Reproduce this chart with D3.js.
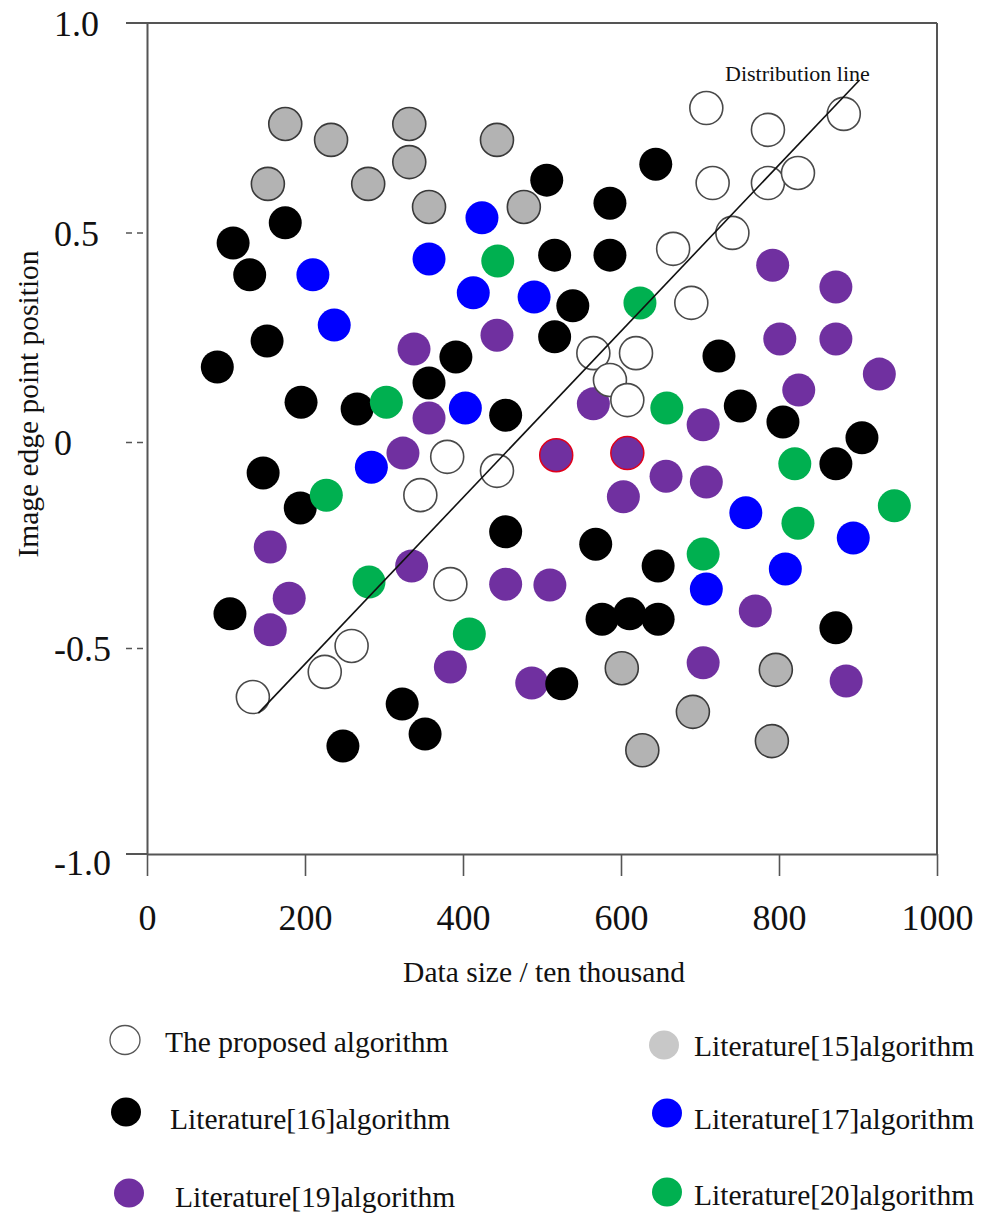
<!DOCTYPE html>
<html>
<head>
<meta charset="utf-8">
<script src="https://cdn.jsdelivr.net/npm/d3@7"></script>
<style>
  html, body { margin: 0; padding: 0; background: #fff; }
  svg { display: block; }
</style>
</head>
<body>
<script>
// ---------------- DATA ----------------
const seriesNames = [
  "The proposed algorithm", "Literature[15]algorithm",
  "Literature[16]algorithm", "Literature[17]algorithm",
  "Literature[19]algorithm", "Literature[20]algorithm"
];
const xTicks = [0, 200, 400, 600, 800, 1000];
const yTicks = [-1.0, -0.5, 0, 0.5, 1.0];
const xTitle = "Data size / ten thousand";
const yTitle = "Image edge point position";
const lineLabel = "Distribution line";

// The proposed algorithm (open circles)
const proposedX = [708, 786, 882, 716, 786, 824, 741, 666, 689, 565, 619, 586, 608, 380, 346, 443, 384, 259, 225, 134];
const proposedY = [0.797, 0.745, 0.783, 0.618, 0.618, 0.642, 0.499, 0.461, 0.332, 0.212, 0.212, 0.148, 0.100, -0.036, -0.129, -0.070, -0.345, -0.495, -0.558, -0.619];

// Literature[15] (grey)
const lit15X = [175, 233, 332, 332, 153, 280, 357, 443, 477, 601, 796, 691, 627, 791];
const lit15Y = [0.759, 0.721, 0.759, 0.668, 0.616, 0.616, 0.561, 0.721, 0.561, -0.549, -0.553, -0.655, -0.748, -0.726];

// Literature[16] (black)
const lit16X = [506, 175, 109, 130, 152, 89, 195, 266, 391, 357, 454, 516, 516, 539, 644, 586, 586, 724, 751, 805, 905, 872, 147, 194, 454, 105, 568, 647, 576, 611, 647, 872, 525, 323, 352, 248];
const lit16Y = [0.625, 0.523, 0.475, 0.399, 0.241, 0.179, 0.095, 0.079, 0.203, 0.141, 0.064, 0.446, 0.251, 0.325, 0.663, 0.570, 0.446, 0.205, 0.086, 0.048, 0.010, -0.053, -0.075, -0.160, -0.218, -0.417, -0.248, -0.301, -0.430, -0.417, -0.430, -0.451, -0.587, -0.636, -0.709, -0.738];

// Literature[17] (blue)
const lit17X = [424, 357, 210, 237, 413, 490, 403, 284, 758, 894, 708, 808];
const lit17Y = [0.535, 0.437, 0.399, 0.279, 0.356, 0.346, 0.081, -0.061, -0.172, -0.233, -0.357, -0.308];

// Literature[19] (purple)
const lit19X = [443, 338, 357, 324, 792, 872, 801, 872, 927, 825, 565, 704, 657, 708, 603, 156, 335, 454, 510, 180, 156, 384, 487, 770, 704, 885];
const lit19Y = [0.255, 0.222, 0.057, -0.027, 0.422, 0.370, 0.246, 0.246, 0.162, 0.124, 0.091, 0.041, -0.083, -0.097, -0.133, -0.255, -0.301, -0.345, -0.347, -0.379, -0.456, -0.546, -0.585, -0.410, -0.536, -0.580];
// Literature[19] points drawn with a red rim in the original
const lit19MarkedX = [518, 608];
const lit19MarkedY = [-0.032, -0.027];

// Literature[20] (green)
const lit20X = [444, 303, 624, 658, 227, 281, 408, 820, 946, 824, 704];
const lit20Y = [0.432, 0.095, 0.332, 0.081, -0.129, -0.340, -0.466, -0.053, -0.155, -0.197, -0.272];

// Distribution line end points
const distLineX = [141, 902];
const distLineY = [-0.658, 0.864];

// ---------------- DRAW ----------------
const W = 990, H = 1213;
const FONT = "'Liberation Serif', 'Times New Roman', serif";
const AXIS = "#555";
const R = 16.5;

const svg = d3.select("body").append("svg")
  .attr("width", W).attr("height", H)
  .attr("font-family", FONT);
svg.append("rect").attr("width", W).attr("height", H).attr("fill", "#fff");

const x = d3.scaleLinear().domain([0, 1000]).range([147, 937]);
const y = d3.scaleLinear().domain([-1, 0, 1]).range([854, 442, 23]);

// frame (top + right) and left extensions at 1.0 / -1.0
svg.append("line").attr("x1", 126).attr("x2", x(1000)).attr("y1", y(1)).attr("y2", y(1))
  .attr("stroke", AXIS).attr("stroke-width", 2);
svg.append("line").attr("x1", x(1000)).attr("x2", x(1000)).attr("y1", y(1)).attr("y2", y(-1))
  .attr("stroke", AXIS).attr("stroke-width", 2);
svg.append("line").attr("x1", 126).attr("x2", x(0)).attr("y1", y(-1)).attr("y2", y(-1))
  .attr("stroke", AXIS).attr("stroke-width", 2);

// x axis
const gx = svg.append("g").attr("transform", `translate(0,${y(-1)})`)
  .call(d3.axisBottom(x).tickValues(xTicks).tickSize(22).tickSizeOuter(0).tickFormat(d => String(d)));
gx.select(".domain").attr("stroke", AXIS).attr("stroke-width", 2);
gx.selectAll(".tick line").attr("stroke", AXIS).attr("stroke-width", 1.6);
gx.selectAll(".tick text")
  .attr("y", 76).attr("dy", 0)
  .attr("font-family", FONT).attr("font-size", 36).attr("fill", "#111");

// y axis
const gy = svg.append("g").attr("transform", `translate(${x(0)},0)`)
  .call(d3.axisLeft(y).tickValues(yTicks).tickSize(21).tickSizeOuter(0)
    .tickFormat(d => d === 0 ? "0" : d.toFixed(1)));
gy.select(".domain").attr("stroke", AXIS).attr("stroke-width", 2);
gy.selectAll(".tick line")
  .attr("x1", -21).attr("x2", -4)
  .attr("stroke", AXIS).attr("stroke-width", 1.6)
  .attr("stroke-dasharray", "6,5")
  .attr("opacity", d => Math.abs(d) < 1 ? 1 : 0);
gy.selectAll(".tick text")
  .attr("x", 54 - 147).attr("text-anchor", "start")
  .attr("dy", d => d === -1 ? "0.57em" : "0.35em")
  .attr("font-family", FONT).attr("font-size", 36).attr("fill", "#111");

// axis titles
svg.append("text").attr("x", 544).attr("y", 982).attr("text-anchor", "middle")
  .attr("font-size", 29.5).attr("fill", "#111").text(xTitle);
svg.append("text").attr("transform", "translate(38,404) rotate(-90)")
  .attr("text-anchor", "middle").attr("font-size", 29.5).attr("fill", "#111").text(yTitle);

// points
function zip(xs, ys) { return xs.map((v, i) => [v, ys[i]]); }
function drawSeries(data, fill, stroke, sw) {
  svg.append("g").selectAll("circle").data(data).join("circle")
    .attr("cx", d => x(d[0])).attr("cy", d => y(d[1])).attr("r", R)
    .attr("fill", fill)
    .attr("stroke", stroke || "none")
    .attr("stroke-width", sw || 0);
}
const COL = {
  proposed: "#ffffff", lit15: "#b3b3b3", lit16: "#000000",
  lit17: "#0000ff", lit19: "#7030a0", lit20: "#00b050"
};
drawSeries(zip(lit19X, lit19Y), COL.lit19);
drawSeries(zip(lit19MarkedX, lit19MarkedY), COL.lit19, "#e0001b", 1.5);
drawSeries(zip(lit16X, lit16Y), COL.lit16);
drawSeries(zip(lit17X, lit17Y), COL.lit17);
drawSeries(zip(lit20X, lit20Y), COL.lit20);
drawSeries(zip(lit15X, lit15Y), COL.lit15, "#3a3a3a", 1.6);
drawSeries(zip(proposedX, proposedY), COL.proposed, "#4a4a4a", 1.6);

// distribution line
svg.append("path")
  .attr("d", d3.line().x(d => x(d[0])).y(d => y(d[1]))(zip(distLineX, distLineY)))
  .attr("stroke", "#111").attr("stroke-width", 1.6).attr("fill", "none");
svg.append("text").attr("x", 725).attr("y", 81).attr("font-size", 22).attr("fill", "#111").text(lineLabel);

// legend
const legendPos = [
  { cx: 125, cy: 1040, tx: 165, ty: 1052 },
  { cx: 664, cy: 1045, tx: 694, ty: 1056 },
  { cx: 126, cy: 1112, tx: 170, ty: 1129 },
  { cx: 667, cy: 1113, tx: 694, ty: 1129 },
  { cx: 129, cy: 1193, tx: 175, ty: 1207 },
  { cx: 667, cy: 1192, tx: 694, ty: 1205 }
];
const legendFill = [COL.proposed, "#c8c8c8", COL.lit16, COL.lit17, COL.lit19, COL.lit20];
const lg = svg.append("g");
seriesNames.forEach((name, i) => {
  const p = legendPos[i];
  lg.append("ellipse").attr("cx", p.cx).attr("cy", p.cy).attr("rx", 15).attr("ry", 14.5)
    .attr("fill", legendFill[i])
    .attr("stroke", i === 0 ? "#555" : "none").attr("stroke-width", i === 0 ? 1.3 : 0);
  lg.append("text").attr("x", p.tx).attr("y", p.ty).attr("font-size", 29.5).attr("fill", "#111").text(name);
});
</script>
</body>
</html>
